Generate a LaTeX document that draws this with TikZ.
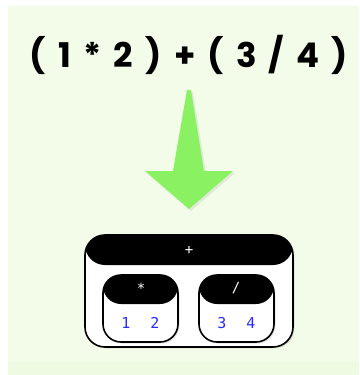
\documentclass[tikz,border=0pt]{standalone}
\usepackage{fontspec}
\setmainfont{Poppins}
\newfontfamily\codefont{DejaVu Sans Mono}
\newfontfamily\exprfont[WordSpace=1.7]{Poppins}
\usepackage{xcolor}
\usepackage{tikz}
\usetikzlibrary{shadows}

\definecolor{paper}{HTML}{F2FCE8}
\definecolor{paperlow}{HTML}{EEFAE2}
\definecolor{arrowgreen}{HTML}{8AF262}
\definecolor{leafblue}{HTML}{2A2AFF}

\begin{document}
\begin{tikzpicture}[
  x=1pt, y=-1pt,
  treebox/.style={draw=black, line width=1.6pt, fill=white, inner sep=0pt,
                  drop shadow={opacity=0.2, shadow xshift=1.5pt, shadow yshift=-1.5pt}},
  hdr/.style={path picture={\fill[black] (path picture bounding box.north west)
                rectangle ([yshift=-#1]path picture bounding box.north east);}},
  oplabel/.style={text=white, font=\codefont\fontsize{14}{14}\selectfont},
  leaf/.style={text=leafblue, font=\codefont\fontsize{15}{15}\selectfont},
  expr/.style={font=\exprfont\bfseries\fontsize{34}{34}\selectfont}
]

\def\midX{189}   % x of the centre line
\def\leafY{323}  % y of the leaf numbers

% --- Background ---
\useasboundingbox (0,0) rectangle (359,375);
\fill[paper] (8,6) rectangle (359,362);
\fill[paperlow] (8,362) rectangle (359,375);

% --- Expression ---
\node[expr] (E) at (\midX,55) {( 1 * 2 ) + ( 3 / 4 )};

% --- Arrow ---
\fill[black, opacity=0.07] (189,92) -- (193,92) -- (206,173) -- (235,173)
  -- (191,211) -- (147,173) -- (175,173) -- cycle;
\fill[arrowgreen] (187,90) -- (191,90) -- (204,171) -- (233,171)
  -- (189,209) -- (145,171) -- (173,171) -- cycle;

% --- Tree: root ---
\node[treebox, hdr=30pt, rounded corners=20pt,
      minimum width=208pt, minimum height=112pt] (R) at (\midX,291) {};
\node[oplabel] (Rop) at (\midX,250) {+};

% --- Tree: children ---
\node[treebox, hdr=29pt, rounded corners=18pt,
      minimum width=75pt, minimum height=67pt] (A) at (140.5,308.5) {};
\node[treebox, hdr=29pt, rounded corners=18pt,
      minimum width=75pt, minimum height=67pt] (B) at (236.5,308.5) {};
\node[oplabel] (Aop) at (141,288) {*};
\node[oplabel] (Bop) at (236,288) {/};

% --- Leaves ---
\node[leaf] (L1) at (126,\leafY) {1};
\node[leaf] (L2) at (155,\leafY) {2};
\node[leaf] (L3) at (222,\leafY) {3};
\node[leaf] (L4) at (251,\leafY) {4};

\end{tikzpicture}
\end{document}
